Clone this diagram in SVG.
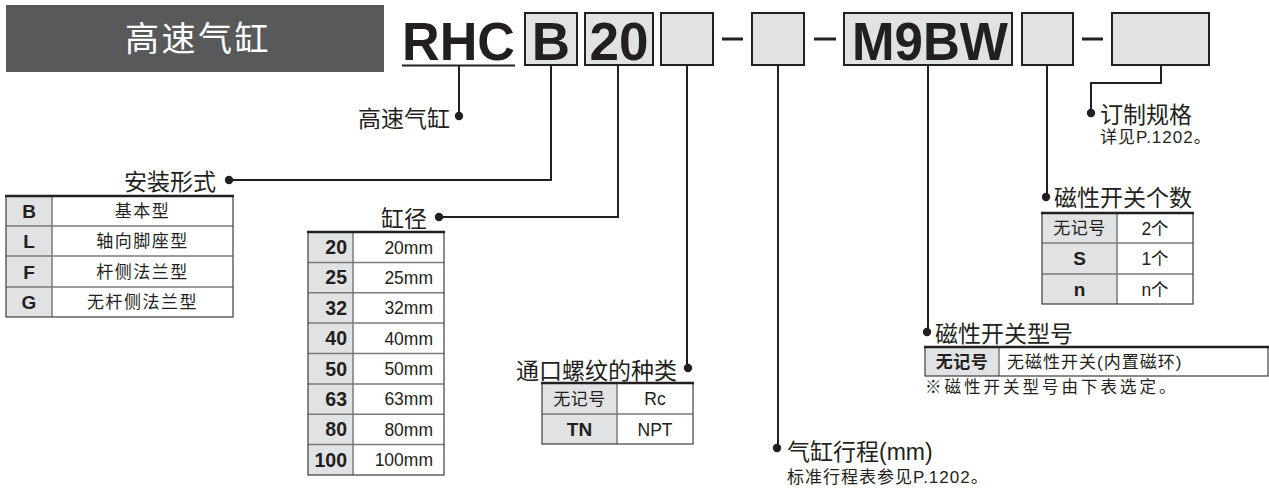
<svg xmlns="http://www.w3.org/2000/svg" width="1269" height="489" viewBox="0 0 1269 489">
<style>
text{font-family:"Liberation Sans","Noto Sans CJK SC",sans-serif;fill:#231f20}
.code{font-size:53px;font-weight:bold}
.box{fill:#e1e2e3;stroke:#231f20;stroke-width:2}
.dash{stroke:#231f20;stroke-width:3}
.conn{fill:none;stroke:#231f20;stroke-width:2}
.dot{fill:#231f20}
.lbl{font-size:23px}
.sub{font-size:17px;letter-spacing:1px}
.note{font-size:16.5px;letter-spacing:3px}
.hd{fill:#e1e2e3}
.outer{fill:none;stroke:#3c3c3c;stroke-width:1.2}
.inner{stroke:#7a7a7a;stroke-width:1.5}
.top{stroke:#231f20;stroke-width:2.5}
.k{font-size:19px;font-weight:bold}
.v{font-size:17px;letter-spacing:1.5px}
.n{font-size:19.5px;font-weight:bold}
.mm{font-size:17.5px}
.c{text-anchor:middle}
.e{text-anchor:end}
</style>
<g id="title">
<rect x="6" y="5" width="378" height="67" fill="#58595b"/>
<text x="198" y="51" class="c" style="fill:#ffffff;font-size:34px;letter-spacing:2.5px">高速气缸</text>
</g>
<g id="code">
<text x="402" y="60" class="code" textLength="113" lengthAdjust="spacingAndGlyphs">RHC</text>
<line x1="402" y1="65.5" x2="515" y2="65.5" stroke="#231f20" stroke-width="2"/>
<rect class="box" x="525" y="13" width="52" height="52"/>
<text x="551" y="60" class="code c">B</text>
<rect class="box" x="585" y="13" width="68" height="52"/>
<text x="619" y="60" class="code c">20</text>
<rect class="box" x="661" y="13" width="52" height="52"/>
<line class="dash" x1="722" y1="39" x2="743" y2="39"/>
<rect class="box" x="752" y="13" width="52" height="52"/>
<line class="dash" x1="814" y1="39" x2="836" y2="39"/>
<rect class="box" x="844" y="13" width="168" height="52"/>
<text x="852" y="60" class="code" textLength="156" lengthAdjust="spacingAndGlyphs">M9BW</text>
<rect class="box" x="1022" y="13" width="51" height="52"/>
<line class="dash" x1="1082" y1="39" x2="1103" y2="39"/>
<rect class="box" x="1112" y="13" width="97" height="52"/>
</g>
<g id="connectors">
<path class="conn" d="M459 66V116"/>
<circle class="dot" cx="459" cy="116" r="4.2"/>
<path class="conn" d="M551 66V180H229"/>
<circle class="dot" cx="229" cy="180" r="4.2"/>
<path class="conn" d="M618 66V217H439"/>
<circle class="dot" cx="439" cy="217" r="4.2"/>
<path class="conn" d="M687 66V368"/>
<circle class="dot" cx="688" cy="368" r="4.2"/>
<path class="conn" d="M778 66V448"/>
<circle class="dot" cx="777" cy="448" r="4.2"/>
<path class="conn" d="M928 66V332"/>
<circle class="dot" cx="927" cy="332" r="4.2"/>
<path class="conn" d="M1047 66V197"/>
<circle class="dot" cx="1046" cy="197" r="4.2"/>
<path class="conn" d="M1161 66V83H1091V113"/>
<circle class="dot" cx="1091" cy="113" r="4.2"/>
</g>
<g id="label-series">
<text x="450" y="127" class="lbl e">高速气缸</text>
</g>
<g id="mounting">
<text x="216" y="190" class="lbl e">安装形式</text>
<rect class="hd" x="6" y="196" width="46" height="121"/>
<line class="inner" x1="6" y1="226" x2="233" y2="226"/>
<line class="inner" x1="6" y1="256" x2="233" y2="256"/>
<line class="inner" x1="6" y1="287" x2="233" y2="287"/>
<line class="inner" x1="52" y1="196" x2="52" y2="317"/>
<rect class="outer" x="6" y="196" width="227" height="121"/>
<line class="top" x1="5" y1="196" x2="234" y2="196"/>
<text x="29" y="218" class="k c">B</text>
<text x="29" y="248" class="k c">L</text>
<text x="29" y="278.5" class="k c">F</text>
<text x="29" y="309" class="k c">G</text>
<text x="142.5" y="217" class="v c">基本型</text>
<text x="142.5" y="247" class="v c">轴向脚座型</text>
<text x="142.5" y="277.5" class="v c">杆侧法兰型</text>
<text x="142.5" y="308" class="v c">无杆侧法兰型</text>
</g>
<g id="bore">
<text x="427" y="227" class="lbl e">缸径</text>
<rect class="hd" x="308" y="232" width="45" height="243"/>
<line class="inner" x1="308" y1="262.4" x2="444" y2="262.4"/>
<line class="inner" x1="308" y1="292.8" x2="444" y2="292.8"/>
<line class="inner" x1="308" y1="323.1" x2="444" y2="323.1"/>
<line class="inner" x1="308" y1="353.5" x2="444" y2="353.5"/>
<line class="inner" x1="308" y1="383.9" x2="444" y2="383.9"/>
<line class="inner" x1="308" y1="414.3" x2="444" y2="414.3"/>
<line class="inner" x1="308" y1="444.6" x2="444" y2="444.6"/>
<line class="inner" x1="353" y1="232" x2="353" y2="475"/>
<rect class="outer" x="308" y="232" width="136" height="243"/>
<line class="top" x1="307" y1="232" x2="445" y2="232"/>
<text x="347" y="254" class="n e">20</text>
<text x="347" y="284.4" class="n e">25</text>
<text x="347" y="314.8" class="n e">32</text>
<text x="347" y="345.1" class="n e">40</text>
<text x="347" y="375.5" class="n e">50</text>
<text x="347" y="405.9" class="n e">63</text>
<text x="347" y="436.3" class="n e">80</text>
<text x="347" y="466.6" class="n e">100</text>
<text x="433" y="253.5" class="mm e">20mm</text>
<text x="433" y="283.9" class="mm e">25mm</text>
<text x="433" y="314.3" class="mm e">32mm</text>
<text x="433" y="344.6" class="mm e">40mm</text>
<text x="433" y="375" class="mm e">50mm</text>
<text x="433" y="405.4" class="mm e">63mm</text>
<text x="433" y="435.8" class="mm e">80mm</text>
<text x="433" y="466.1" class="mm e">100mm</text>
</g>
<g id="port">
<text x="677" y="379" class="lbl e">通口螺纹的种类</text>
<rect class="hd" x="542" y="383" width="75" height="61"/>
<line class="inner" x1="542" y1="414" x2="693" y2="414"/>
<line class="inner" x1="617" y1="383" x2="617" y2="444"/>
<rect class="outer" x="542" y="383" width="151" height="61"/>
<line class="top" x1="541" y1="383" x2="694" y2="383"/>
<text x="579.5" y="404.5" class="v c" style="letter-spacing:0.5px">无记号</text>
<text x="579.5" y="435.5" class="k c">TN</text>
<text x="655" y="405" class="mm c">Rc</text>
<text x="655" y="435.5" class="mm c">NPT</text>
</g>
<g id="stroke">
<text x="787" y="460" class="lbl">气缸行程(mm)</text>
<text x="787" y="483" class="sub">标准行程表参见P.1202。</text>
</g>
<g id="switch-type">
<text x="935" y="342" class="lbl">磁性开关型号</text>
<rect class="hd" x="925" y="347" width="74" height="29"/>
<line class="inner" x1="999" y1="347" x2="999" y2="376"/>
<rect class="outer" x="925" y="347" width="343" height="29"/>
<line class="top" x1="924" y1="347" x2="1269" y2="347"/>
<text x="962" y="368" class="v c" style="font-weight:bold;letter-spacing:0.5px">无记号</text>
<text x="1007" y="368" class="v" style="letter-spacing:1px">无磁性开关(内置磁环)</text>
<text x="925" y="393" class="note">※磁性开关型号由下表选定。</text>
</g>
<g id="switch-count">
<text x="1054" y="206" class="lbl">磁性开关个数</text>
<rect class="hd" x="1042" y="213" width="75" height="91"/>
<line class="inner" x1="1042" y1="243" x2="1193" y2="243"/>
<line class="inner" x1="1042" y1="274" x2="1193" y2="274"/>
<line class="inner" x1="1117" y1="213" x2="1117" y2="304"/>
<rect class="outer" x="1042" y="213" width="151" height="91"/>
<line class="top" x1="1041" y1="213" x2="1194" y2="213"/>
<text x="1079.5" y="234" class="v c" style="letter-spacing:0.5px">无记号</text>
<text x="1079.5" y="265" class="k c">S</text>
<text x="1079.5" y="295.5" class="k c">n</text>
<text x="1155" y="234.5" class="mm c">2个</text>
<text x="1155" y="265" class="mm c">1个</text>
<text x="1155" y="295.5" class="mm c">n个</text>
</g>
<g id="order">
<text x="1100" y="123" class="lbl">订制规格</text>
<text x="1100" y="143" class="sub">详见P.1202。</text>
</g>
</svg>
